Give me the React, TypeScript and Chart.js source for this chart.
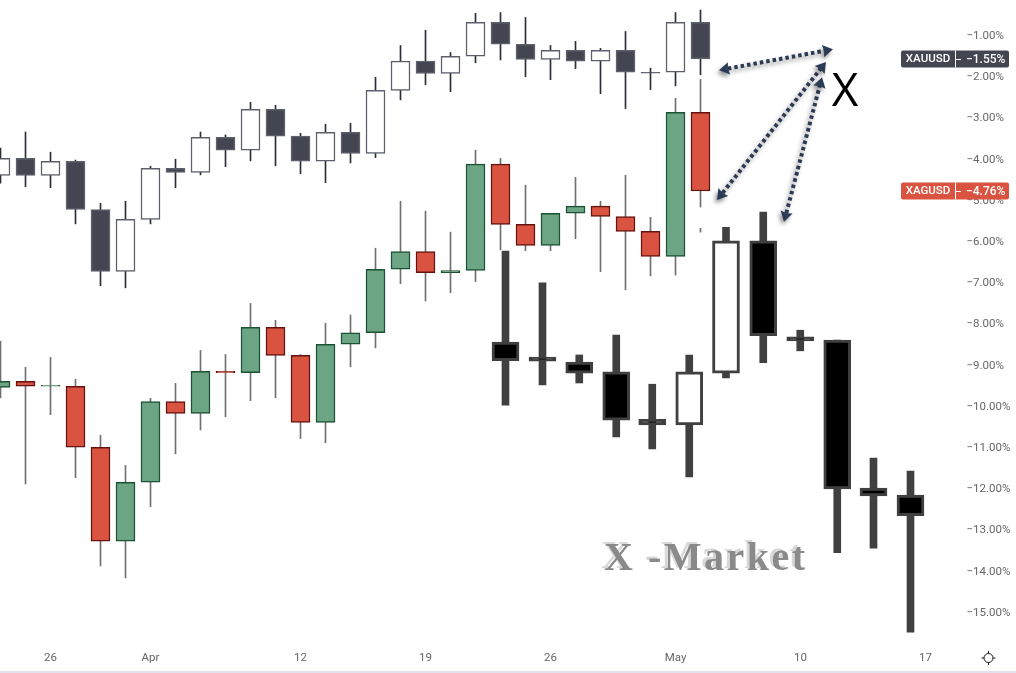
import React, { useEffect, useRef } from "react";
import { Chart, registerables } from "chart.js";

Chart.register(...registerables);

const FONT = "Roboto, sans-serif";

const dailyDays = Array.from({ length: 29 }, (_, i) => i);

const goldOpen = [-4.38, -3.97, -4.38, -4.04, -5.21, -6.71, -5.45, -4.21, -4.31, -3.46, -3.77, -2.78, -3.43, -4.04, -3.34, -3.85, -2.32, -1.61, -1.91, -1.49, -0.67, -1.20, -1.57, -1.35, -1.61, -1.35, -1.88, -1.88, -0.67];
const goldHigh = [-3.72, -3.33, -3.82, -4.01, -5.06, -5.01, -4.16, -3.99, -3.33, -3.40, -2.61, -2.68, -3.36, -3.14, -3.12, -2.00, -1.23, -0.86, -1.40, -0.45, -0.43, -0.55, -1.23, -1.13, -1.30, -0.89, -1.78, -0.43, -0.37];
const goldLow = [-4.57, -4.66, -4.68, -5.56, -7.06, -7.11, -5.56, -4.68, -4.37, -4.17, -4.03, -4.15, -4.34, -4.56, -4.08, -3.95, -2.55, -2.18, -2.35, -1.65, -1.58, -1.99, -2.06, -1.79, -2.40, -2.76, -2.30, -2.21, -1.94];
const goldClose = [-3.97, -4.38, -4.04, -5.21, -6.71, -5.45, -4.21, -4.31, -3.46, -3.77, -2.78, -3.43, -4.04, -3.34, -3.85, -2.32, -1.61, -1.91, -1.49, -0.67, -1.20, -1.57, -1.35, -1.61, -1.35, -1.88, -1.90, -0.67, -1.55];

const silverOpen = [-9.53, -9.38, -9.50, -9.50, -10.98, -13.26, -11.83, -9.87, -10.16, -9.14, -9.17, -8.07, -8.75, -10.38, -8.48, -8.20, -6.66, -6.23, -6.74, -6.69, -4.11, -5.57, -6.08, -5.30, -5.13, -5.38, -5.74, -6.35, -2.85];
const silverHigh = [-8.41, -9.04, -8.80, -9.33, -10.69, -11.42, -9.79, -9.43, -8.63, -8.73, -7.49, -7.90, -8.73, -7.97, -7.77, -6.15, -5.01, -5.25, -5.76, -3.77, -3.97, -4.62, -5.30, -4.43, -5.01, -4.38, -5.40, -2.51, -2.05];
const silverLow = [-9.78, -11.87, -10.19, -11.72, -13.86, -14.15, -12.42, -11.14, -10.56, -10.24, -9.85, -9.78, -10.77, -10.87, -9.03, -8.57, -7.01, -7.43, -7.23, -6.96, -6.19, -6.21, -6.21, -5.92, -6.72, -7.16, -6.82, -6.80, -5.76];
const silverClose = [-9.38, -9.50, -9.48, -10.98, -13.26, -11.83, -9.87, -10.16, -9.14, -9.17, -8.07, -8.75, -10.38, -8.48, -8.20, -6.66, -6.23, -6.74, -6.69, -4.11, -5.57, -6.08, -5.30, -5.13, -5.38, -5.74, -6.35, -2.85, -4.76];

const markerDays = [20.2, 21.68, 23.15, 24.63, 26.07, 27.55, 29.02, 30.51, 31.99, 33.47, 34.92, 36.4];
const markerOpen = [-8.43, -8.79, -8.91, -9.15, -10.30, -10.44, -9.18, -5.97, -8.30, -8.38, -11.97, -12.14];
const markerHigh = [-6.22, -6.99, -8.74, -8.26, -9.45, -8.74, -5.64, -5.27, -8.14, -8.38, -11.24, -11.56];
const markerLow = [-9.96, -9.47, -9.42, -10.73, -11.02, -11.70, -9.30, -8.93, -8.64, -13.54, -13.43, -15.47];
const markerClose = [-8.88, -8.89, -9.18, -10.32, -10.44, -9.15, -5.97, -8.27, -8.40, -11.99, -12.16, -12.64];

const xTickDays = [2, 6, 12, 17, 22, 27, 32, 37];
const xTickLabels = ["26", "Apr", "12", "19", "26", "May", "10", "17"];
const yTicks = [-1, -2, -3, -4, -5, -6, -7, -8, -9, -10, -11, -12, -13, -14, -15];

const tags = [
  { name: "XAUUSD", value: -1.55, color: "#434651" },
  { name: "XAGUSD", value: -4.76, color: "#d95340" },
];

// Double-headed arrows: [day, percent] to [day, percent]
const arrows = [
  [[28.74, -1.83], [33.3, -1.32]],
  [[28.66, -4.98], [33.02, -1.63]],
  [[31.34, -5.51], [32.86, -2.0]],
];

type Style = {
  up: string; down: string; upBorder: string; downBorder: string; wick: string;
  bodyWidth: number; wickWidth: number; border: number;
};

function candles(days: number[], open: number[], high: number[], low: number[], close: number[], s: Style, order: number) {
  return [
    {
      order: order + 1,
      data: days.map((x, i) => ({ x, y: [low[i], high[i]] })),
      backgroundColor: s.wick,
      borderWidth: 0,
      barThickness: s.wickWidth,
    },
    {
      order,
      data: days.map((x, i) => ({ x, y: [open[i], close[i]] })),
      backgroundColor: close.map((c, i) => (c > open[i] ? s.up : s.down)),
      borderColor: close.map((c, i) => (c > open[i] ? s.upBorder : s.downBorder)),
      borderWidth: s.border,
      borderSkipped: false,
      barThickness: s.bodyWidth,
    },
  ];
}

const overlay = {
  id: "overlay",
  afterDraw(chart: any) {
    const { ctx, scales } = chart;
    const X = scales.x, Y = scales.y;
    ctx.save();

    // pale separator at the foot of the page
    ctx.fillStyle = "#e0e3eb";
    ctx.fillRect(0, 671, 1016, 2);

    // part of the last silver wick hidden under the drawing
    ctx.fillStyle = "#ffffff";
    ctx.fillRect(X.getPixelForValue(28) - 2, Y.getPixelForValue(-5.16), 4, Y.getPixelForValue(-5.66) - Y.getPixelForValue(-5.16));

    // watermark
    ctx.textBaseline = "alphabetic";
    ctx.textAlign = "left";
    ctx.font = "bold 40px 'Liberation Serif', serif";
    (ctx as any).letterSpacing = "2.5px";
    ctx.fillStyle = "#d8d8d8";
    ctx.fillText("X -Market", 601, 568);
    ctx.fillStyle = "#8a8a8a";
    ctx.fillText("X -Market", 604, 570);
    (ctx as any).letterSpacing = "0px";

    // arrows
    for (const [a, b] of arrows) {
      const x1 = X.getPixelForValue(a[0]), y1 = Y.getPixelForValue(a[1]);
      const x2 = X.getPixelForValue(b[0]), y2 = Y.getPixelForValue(b[1]);
      const ang = Math.atan2(y2 - y1, x2 - x1);
      ctx.shadowColor = "rgba(0,0,0,0.45)";
      ctx.shadowBlur = 4;
      ctx.shadowOffsetX = -2;
      ctx.shadowOffsetY = 3;
      ctx.strokeStyle = "#2b3a55";
      ctx.fillStyle = "#2b3a55";
      ctx.lineWidth = 4;
      ctx.setLineDash([3.5, 3]);
      ctx.beginPath();
      ctx.moveTo(x1 + 9 * Math.cos(ang), y1 + 9 * Math.sin(ang));
      ctx.lineTo(x2 - 9 * Math.cos(ang), y2 - 9 * Math.sin(ang));
      ctx.stroke();
      ctx.setLineDash([]);
      for (const [px, py, dir] of [[x1, y1, ang], [x2, y2, ang + Math.PI]]) {
        ctx.beginPath();
        ctx.moveTo(px, py);
        ctx.lineTo(px + 12 * Math.cos(dir + 0.55), py + 12 * Math.sin(dir + 0.55));
        ctx.lineTo(px + 9 * Math.cos(dir), py + 9 * Math.sin(dir));
        ctx.lineTo(px + 12 * Math.cos(dir - 0.55), py + 12 * Math.sin(dir - 0.55));
        ctx.closePath();
        ctx.fill();
      }
    }
    ctx.shadowColor = "transparent";
    ctx.shadowBlur = 0;
    ctx.shadowOffsetX = 0;
    ctx.shadowOffsetY = 0;

    // big X
    ctx.fillStyle = "#000000";
    ctx.font = "46px 'Open Sans', sans-serif";
    ctx.textAlign = "center";
    ctx.textBaseline = "alphabetic";
    ctx.fillText("X", 845, 106);

    // price tags
    for (const t of tags) {
      const y = Math.round(Y.getPixelForValue(t.value));
      ctx.fillStyle = t.color;
      ctx.beginPath();
      ctx.roundRect(901, y - 8.5, 108, 17, 2);
      ctx.fill();
      ctx.fillStyle = "#ffffff";
      ctx.fillRect(955, y - 8.5, 1, 17);
      ctx.fillRect(956, y, 5, 1);
      ctx.font = "500 11.5px " + FONT;
      ctx.textBaseline = "middle";
      ctx.textAlign = "center";
      ctx.fillText(t.name, 928, y + 0.5);
      ctx.textAlign = "left";
      ctx.font = "500 12px " + FONT;
      ctx.fillText("\u2212" + Math.abs(t.value).toFixed(2) + "%", 966, y + 0.5);
    }

    // settings icon
    const cx = 988.5, cy = 658;
    ctx.strokeStyle = "#131722";
    ctx.lineWidth = 1;
    ctx.beginPath();
    ctx.arc(cx, cy, 4.5, 0, Math.PI * 2);
    ctx.stroke();
    for (let k = 0; k < 4; k++) {
      const a = (k * Math.PI) / 2;
      ctx.beginPath();
      ctx.moveTo(cx + 4.5 * Math.cos(a), cy + 4.5 * Math.sin(a));
      ctx.lineTo(cx + 7 * Math.cos(a), cy + 7 * Math.sin(a));
      ctx.stroke();
    }
    ctx.restore();
  },
};

export default function App() {
  const ref = useRef<HTMLCanvasElement>(null);
  useEffect(() => {
    const goldStyle: Style = { up: "#ffffff", down: "#434651", upBorder: "#5d606b", downBorder: "#5d606b", wick: "#2a2e39", bodyWidth: 19, wickWidth: 1, border: 1.5 };
    const silverStyle: Style = { up: "#6ca584", down: "#d95340", upBorder: "#1b5235", downBorder: "#631410", wick: "#707070", bodyWidth: 19, wickWidth: 1, border: 1.5 };
    const markerStyle: Style = { up: "#ffffff", down: "#000000", upBorder: "#404040", downBorder: "#404040", wick: "#404040", bodyWidth: 27, wickWidth: 7, border: 3 };
    const chart = new Chart(ref.current as HTMLCanvasElement, {
      type: "bar",
      data: {
        datasets: [
          ...candles(dailyDays, silverOpen, silverHigh, silverLow, silverClose, silverStyle, 4),
          ...candles(dailyDays, goldOpen, goldHigh, goldLow, goldClose, goldStyle, 2),
          ...candles(markerDays, markerOpen, markerHigh, markerLow, markerClose, markerStyle, 0),
        ] as any,
      },
      options: {
        animation: false,
        responsive: false,
        maintainAspectRatio: false,
        layout: { padding: 0, autoPadding: false },
        datasets: { bar: { grouped: false } },
        plugins: { legend: { display: false }, tooltip: { enabled: false } },
        scales: {
          x: {
            type: "linear",
            offset: false,
            min: -0.02,
            max: 37.98,
            grid: { display: false, drawTicks: false },
            border: { display: false },
            afterBuildTicks: (s: any) => {
              s.ticks = xTickDays.map((value) => ({ value }));
            },
            afterFit: (s: any) => {
              s.height = 30;
              s.paddingLeft = 0;
              s.paddingRight = 0;
            },
            ticks: {
              autoSkip: false,
              maxRotation: 0,
              padding: 8,
              color: "#666666",
              font: { family: FONT, size: 11.5 },
              callback: (v: any) => xTickLabels[xTickDays.indexOf(v)],
            },
          },
          y: {
            position: "right",
            min: -15.73,
            max: -0.126,
            grid: { display: false, drawTicks: false },
            border: { display: false },
            afterBuildTicks: (s: any) => {
              s.ticks = yTicks.map((value) => ({ value }));
            },
            afterFit: (s: any) => {
              s.width = 66;
              s.paddingTop = 0;
              s.paddingBottom = 0;
            },
            ticks: {
              autoSkip: false,
              crossAlign: "near",
              padding: 16.5,
              color: "#666666",
              font: { family: FONT, size: 11.5 },
              callback: (v: any) => "\u2212" + Math.abs(v).toFixed(2) + "%",
            },
          },
        },
      } as any,
      plugins: [overlay],
    });
    return () => chart.destroy();
  }, []);
  return (
    <div style={{ position: "fixed", left: 0, top: 0, width: 1016, height: 673, background: "#ffffff" }}>
      <canvas ref={ref} width={1016} height={673} style={{ display: "block" }} />
    </div>
  );
}
